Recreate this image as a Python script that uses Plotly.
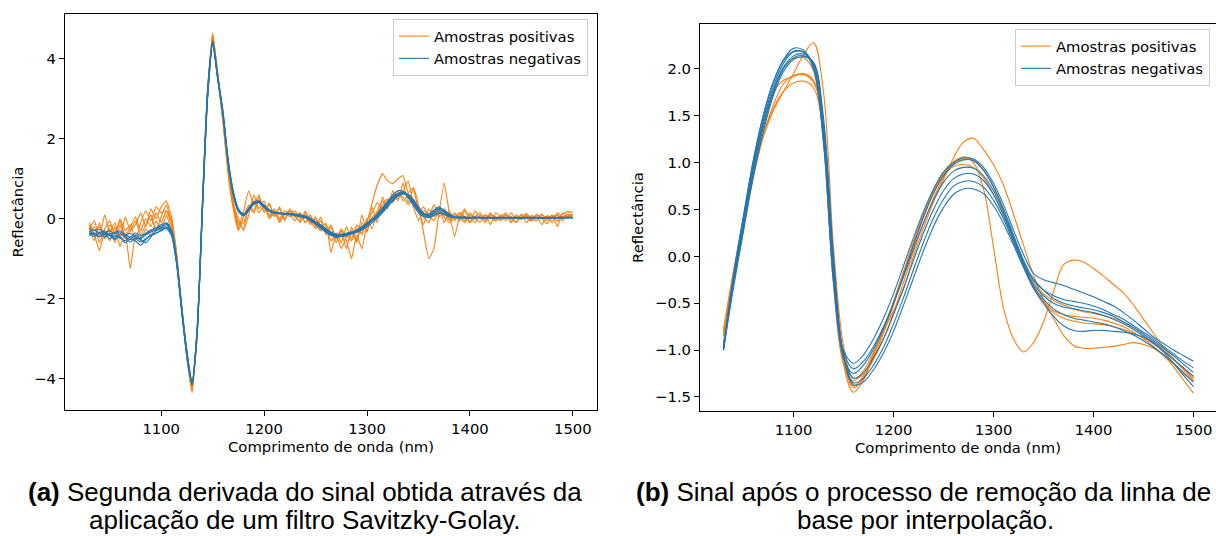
import numpy as np
import plotly.graph_objects as go

# ---------------- data: left panel (second derivative, 5 nm grid) ----------------
wl_a = np.arange(1030, 1501, 5)

pos_a = [
    [-0.20,-0.55,-0.10,-0.45,-0.25,-0.60,-0.15,-0.50,-0.30,-0.05,
     -0.40,-0.15,0.10,-0.30,0.05,0.35,-0.10,-0.95,-2.30,-3.50,
     -4.30,-2.90,0.10,3.20,4.65,3.60,2.50,1.20,0.30,-0.25,
     0.20,0.70,0.35,0.60,0.15,0.40,0.05,0.30,-0.05,0.25,
     0.10,-0.10,0.20,-0.05,-0.25,0.05,-0.40,-0.20,-0.60,-0.30,
     -0.75,-0.20,-0.55,0.10,-0.35,0.30,-0.10,0.55,0.25,0.70,
     0.45,0.90,0.40,0.75,0.20,-0.15,0.25,0.05,0.30,-0.10,
     0.20,-0.05,0.15,0.05,-0.10,0.20,0.00,0.10,-0.15,0.15,
     0.05,-0.05,0.15,0.00,0.10,-0.10,0.08,0.02,0.12,-0.05,
     0.10,-0.20,0.15,0.05,0.12],
    [-0.15,-0.40,-0.80,-0.30,-0.55,-0.20,-0.70,-0.35,-1.25,-0.40,
     -0.55,-0.25,-0.45,-0.05,-0.30,0.10,-0.30,-1.00,-2.25,-3.40,
     -4.20,-2.85,0.25,3.15,4.55,3.55,2.45,1.30,0.45,-0.10,
     -0.25,0.30,0.15,0.55,0.20,0.35,0.10,0.25,0.00,0.20,
     0.05,0.15,-0.10,0.10,-0.20,-0.05,-0.35,-0.15,-0.50,-0.25,
     -0.55,-1.00,-0.40,-0.75,-0.10,0.40,0.85,1.13,0.95,0.88,
     1.00,1.08,0.65,0.78,0.35,-0.35,-1.00,-0.75,0.15,0.90,
     0.15,-0.45,0.05,0.25,-0.10,0.05,0.15,-0.05,0.10,0.00,
     0.00,0.12,-0.08,0.06,-0.02,0.14,0.00,-0.05,0.10,0.02,
     0.08,-0.06,0.12,0.18,0.16],
    [-0.25,-0.05,-0.45,0.10,-0.35,-0.10,-0.50,0.05,-0.30,-0.15,
     0.15,-0.20,0.25,0.00,0.30,0.45,0.05,-0.85,-2.20,-3.40,
     -4.25,-2.95,0.15,3.10,4.60,3.65,2.55,1.35,0.40,0.00,
     -0.30,0.10,0.60,0.25,0.45,0.05,0.20,-0.10,0.15,0.05,
     0.20,0.00,0.15,-0.15,0.05,-0.30,-0.10,-0.85,-0.35,-0.60,
     -0.20,-0.50,-0.15,-0.40,-0.05,-0.25,0.20,0.45,0.30,0.60,
     0.50,0.70,0.95,0.40,0.15,0.30,0.05,0.35,0.10,0.25,
     0.00,0.15,-0.05,0.20,0.05,-0.10,0.10,0.00,0.15,-0.05,
     0.05,0.15,-0.10,0.10,0.00,0.08,-0.05,0.12,0.00,0.06,
     -0.10,0.15,0.05,0.10,0.02],
    [-0.35,-0.20,-0.60,-0.25,-0.05,-0.40,0.00,-0.30,-0.15,-0.55,
     -0.10,0.20,-0.05,0.30,0.15,0.20,-0.15,-1.00,-2.35,-3.50,
     -4.35,-2.90,0.20,3.00,4.50,3.50,2.40,1.10,0.25,-0.30,
     0.05,0.35,0.20,0.45,0.30,0.10,0.25,0.00,0.20,0.10,
     -0.05,0.15,-0.10,0.05,-0.15,-0.30,-0.20,-0.55,-0.40,-0.75,
     -0.45,-0.30,-0.60,-0.10,-0.30,0.05,0.15,0.35,0.50,0.40,
     0.60,0.55,0.35,0.50,0.25,0.05,-0.10,0.20,0.05,0.15,
     -0.05,0.10,0.05,-0.10,0.15,0.00,0.05,-0.10,0.10,0.05,
     -0.05,0.10,0.00,-0.08,0.12,0.02,-0.05,0.10,0.00,-0.12,
     0.05,0.10,-0.05,0.12,0.08],
    [-0.10,-0.30,-0.20,-0.50,-0.15,-0.35,-0.05,-0.45,-0.20,0.05,
     -0.30,0.00,-0.20,0.15,-0.10,0.20,0.00,-0.90,-2.25,-3.45,
     -4.20,-2.80,0.30,3.25,4.62,3.58,2.52,1.25,0.35,-0.15,
     -0.10,0.25,0.45,0.15,0.35,0.00,0.15,-0.05,0.10,0.20,
     0.05,-0.05,0.10,-0.10,0.00,-0.20,-0.15,-0.35,-0.50,-0.30,
     -0.40,-0.55,-0.25,-0.35,0.00,0.15,0.40,0.25,0.45,0.55,
     0.70,0.45,0.60,0.30,-0.05,0.20,0.10,-0.05,0.20,0.05,
     -0.10,0.05,0.15,-0.05,0.10,0.00,-0.08,0.10,0.02,-0.05,
     0.10,0.00,0.05,-0.10,0.05,0.12,-0.02,0.05,-0.15,0.08,
     0.02,0.10,0.00,0.06,0.04],
]

neg_a = [
    [-0.30,-0.38,-0.33,-0.40,-0.36,-0.46,-0.38,-0.44,-0.52,-0.40,
     -0.47,-0.40,-0.33,-0.28,-0.22,-0.15,-0.35,-1.05,-2.25,-3.35,
     -4.10,-2.75,0.30,3.10,4.40,3.50,2.65,1.45,0.65,0.22,
     0.10,0.25,0.40,0.42,0.30,0.20,0.15,0.14,0.12,0.13,
     0.10,0.08,0.05,-0.02,-0.10,-0.18,-0.28,-0.36,-0.40,-0.40,
     -0.36,-0.33,-0.30,-0.22,-0.12,-0.02,0.10,0.25,0.40,0.55,
     0.64,0.66,0.55,0.38,0.20,0.08,0.03,0.08,0.15,0.12,
     0.06,0.03,0.04,0.02,0.03,0.05,0.02,0.03,0.04,0.01,
     0.02,0.04,0.03,0.01,0.03,0.04,0.02,0.03,0.01,0.03,
     0.02,0.04,0.03,0.03,0.04],
    [-0.42,-0.35,-0.45,-0.38,-0.50,-0.42,-0.48,-0.55,-0.45,-0.50,
     -0.58,-0.50,-0.42,-0.36,-0.28,-0.22,-0.40,-1.10,-2.30,-3.40,
     -4.15,-2.80,0.20,3.00,4.35,3.55,2.70,1.50,0.70,0.25,
     0.12,0.22,0.38,0.44,0.33,0.22,0.16,0.13,0.14,0.11,
     0.09,0.06,0.03,-0.04,-0.12,-0.22,-0.32,-0.40,-0.44,-0.43,
     -0.40,-0.36,-0.32,-0.26,-0.16,-0.05,0.06,0.20,0.36,0.50,
     0.60,0.68,0.60,0.44,0.26,0.12,0.10,0.22,0.30,0.20,
     0.10,0.04,0.03,0.05,0.02,0.04,0.03,0.01,0.04,0.02,
     0.03,0.02,0.04,0.03,0.01,0.04,0.03,0.02,0.03,0.02,
     0.03,0.02,0.04,0.03,0.03],
    [-0.25,-0.30,-0.26,-0.35,-0.30,-0.38,-0.33,-0.40,-0.36,-0.45,
     -0.50,-0.38,-0.30,-0.22,-0.14,-0.10,-0.28,-1.00,-2.20,-3.30,
     -4.05,-2.70,0.40,3.20,4.45,3.55,2.60,1.40,0.60,0.18,
     0.08,0.26,0.42,0.40,0.28,0.18,0.14,0.15,0.13,0.12,
     0.11,0.09,0.06,0.00,-0.08,-0.16,-0.25,-0.33,-0.38,-0.39,
     -0.37,-0.34,-0.28,-0.20,-0.10,0.00,0.12,0.28,0.44,0.60,
     0.70,0.68,0.52,0.34,0.16,0.05,0.04,0.10,0.14,0.10,
     0.05,0.03,0.05,0.03,0.02,0.04,0.03,0.04,0.02,0.03,
     0.04,0.03,0.02,0.03,0.04,0.02,0.03,0.04,0.02,0.03,
     0.04,0.03,0.02,0.04,0.03],
    [-0.38,-0.44,-0.36,-0.46,-0.40,-0.50,-0.44,-0.60,-0.50,-0.56,
     -0.66,-0.52,-0.40,-0.36,-0.30,-0.25,-0.42,-1.15,-2.35,-3.45,
     -4.12,-2.85,0.25,3.05,4.38,3.48,2.62,1.42,0.62,0.20,
     0.10,0.24,0.40,0.43,0.32,0.20,0.15,0.12,0.11,0.10,
     0.08,0.05,0.02,-0.05,-0.14,-0.24,-0.34,-0.42,-0.46,-0.45,
     -0.42,-0.38,-0.34,-0.28,-0.20,-0.10,0.02,0.15,0.30,0.44,
     0.56,0.62,0.62,0.48,0.30,0.14,0.08,0.16,0.24,0.18,
     0.08,0.03,0.02,0.04,0.03,0.02,0.04,0.03,0.02,0.03,
     0.02,0.03,0.04,0.02,0.03,0.02,0.04,0.03,0.02,0.04,
     0.03,0.02,0.03,0.04,0.02],
    [-0.33,-0.28,-0.36,-0.30,-0.42,-0.34,-0.30,-0.40,-0.46,-0.35,
     -0.42,-0.36,-0.28,-0.24,-0.18,-0.12,-0.32,-1.08,-2.28,-3.38,
     -4.08,-2.72,0.35,3.15,4.42,3.52,2.68,1.48,0.68,0.24,
     0.12,0.27,0.41,0.45,0.34,0.23,0.17,0.15,0.13,0.14,
     0.12,0.10,0.07,0.01,-0.07,-0.15,-0.26,-0.35,-0.42,-0.43,
     -0.40,-0.35,-0.30,-0.24,-0.14,-0.04,0.08,0.22,0.38,0.52,
     0.62,0.64,0.56,0.40,0.22,0.10,0.06,0.14,0.20,0.16,
     0.08,0.04,0.03,0.04,0.02,0.03,0.04,0.02,0.03,0.04,
     0.03,0.04,0.02,0.03,0.03,0.04,0.02,0.03,0.04,0.02,
     0.03,0.04,0.03,0.02,0.03],
    [-0.36,-0.40,-0.45,-0.36,-0.42,-0.52,-0.38,-0.46,-0.58,-0.48,
     -0.52,-0.60,-0.45,-0.30,-0.24,-0.20,-0.38,-1.12,-2.32,-3.42,
     -4.14,-2.82,0.22,3.02,4.36,3.46,2.60,1.40,0.60,0.20,
     0.08,0.20,0.36,0.41,0.31,0.21,0.16,0.14,0.12,0.12,
     0.10,0.07,0.04,-0.03,-0.11,-0.20,-0.30,-0.38,-0.43,-0.42,
     -0.38,-0.34,-0.31,-0.25,-0.15,-0.05,0.06,0.18,0.32,0.46,
     0.58,0.63,0.58,0.44,0.28,0.14,0.12,0.20,0.26,0.22,
     0.12,0.05,0.03,0.02,0.04,0.03,0.02,0.03,0.04,0.02,
     0.03,0.02,0.03,0.04,0.02,0.03,0.04,0.02,0.03,0.03,
     0.02,0.03,0.04,0.03,0.04],
]

# ---------------- data: right panel (baseline removed, 10 nm grid) ----------------
wl_b = np.arange(1030, 1501, 10)

pos_b = [
    [-0.82,-0.25,0.30,0.85,1.28,1.56,1.76,1.95,2.15,2.28,
     1.75,0.10,-0.95,-1.30,-1.26,-1.10,-0.88,-0.60,-0.28,0.05,
     0.35,0.62,0.84,0.98,1.04,1.02,0.92,0.74,0.50,0.20,
     -0.10,-0.34,-0.48,-0.58,-0.62,-0.64,-0.65,-0.66,-0.68,-0.71,
     -0.75,-0.81,-0.88,-0.96,-1.05,-1.15,-1.25,-1.34],
    [-0.80,-0.18,0.42,0.98,1.42,1.75,1.88,1.92,1.95,1.88,
     1.30,-0.15,-1.10,-1.40,-1.30,-1.08,-0.82,-0.52,-0.20,0.12,
     0.42,0.68,0.88,1.00,1.06,1.00,0.72,0.10,-0.55,-0.88,
     -1.02,-0.92,-0.70,-0.38,-0.09,-0.04,-0.06,-0.13,-0.21,-0.30,
     -0.39,-0.52,-0.67,-0.82,-0.97,-1.09,-1.19,-1.28],
    [-0.78,-0.15,0.40,0.90,1.30,1.58,1.76,1.85,1.87,1.80,
     1.30,-0.05,-1.15,-1.45,-1.32,-1.05,-0.80,-0.58,-0.35,0.00,
     0.30,0.58,0.82,1.05,1.22,1.26,1.14,0.98,0.76,0.45,
     0.12,-0.20,-0.46,-0.66,-0.84,-0.95,-0.98,-0.98,-0.97,-0.96,
     -0.94,-0.92,-0.94,-0.98,-1.06,-1.18,-1.32,-1.46],
    [-0.85,-0.22,0.35,0.88,1.30,1.62,1.84,1.93,1.94,1.86,
     1.35,-0.08,-1.10,-1.38,-1.28,-1.04,-0.78,-0.50,-0.18,0.15,
     0.45,0.70,0.90,1.01,1.06,1.03,0.92,0.74,0.50,0.22,
     -0.06,-0.28,-0.40,-0.47,-0.52,-0.56,-0.59,-0.61,-0.63,-0.66,
     -0.70,-0.76,-0.83,-0.91,-1.00,-1.10,-1.21,-1.32],
    [-0.92,-0.25,0.36,0.95,1.42,1.78,2.01,2.11,2.12,1.98,
     1.20,-0.30,-1.15,-1.33,-1.22,-1.02,-0.78,-0.48,-0.16,0.16,
     0.45,0.69,0.86,0.96,0.98,0.95,0.84,0.66,0.43,0.16,
     -0.10,-0.34,-0.50,-0.60,-0.66,-0.69,-0.71,-0.72,-0.73,-0.75,
     -0.78,-0.82,-0.87,-0.93,-1.01,-1.10,-1.20,-1.30],
]

neg_b = [
    [-1.00,-0.22,0.42,1.02,1.50,1.86,2.10,2.22,2.20,2.02,
     1.25,-0.25,-1.00,-1.14,-1.05,-0.88,-0.66,-0.40,-0.10,0.20,
     0.48,0.72,0.90,1.00,1.05,1.04,0.95,0.78,0.55,0.28,
     0.02,-0.18,-0.25,-0.28,-0.31,-0.35,-0.39,-0.43,-0.48,-0.53,
     -0.60,-0.68,-0.77,-0.86,-0.93,-1.00,-1.06,-1.12],
    [-0.95,-0.25,0.38,0.98,1.46,1.82,2.06,2.18,2.18,2.04,
     1.30,-0.15,-1.02,-1.20,-1.12,-0.96,-0.75,-0.50,-0.22,0.08,
     0.36,0.60,0.79,0.91,0.95,0.94,0.86,0.70,0.47,0.20,
     -0.06,-0.26,-0.36,-0.42,-0.46,-0.48,-0.50,-0.53,-0.57,-0.62,
     -0.67,-0.74,-0.81,-0.88,-0.96,-1.04,-1.12,-1.19],
    [-1.00,-0.28,0.34,0.94,1.42,1.78,2.02,2.14,2.16,2.06,
     1.38,-0.10,-1.05,-1.30,-1.24,-1.08,-0.88,-0.62,-0.34,-0.04,
     0.25,0.50,0.70,0.83,0.88,0.88,0.81,0.66,0.44,0.18,
     -0.08,-0.30,-0.42,-0.50,-0.54,-0.56,-0.58,-0.60,-0.63,-0.67,
     -0.72,-0.78,-0.85,-0.93,-1.01,-1.10,-1.19,-1.28],
    [-0.98,-0.30,0.30,0.90,1.38,1.75,2.00,2.12,2.14,2.06,
     1.42,-0.05,-1.06,-1.35,-1.30,-1.16,-0.97,-0.72,-0.44,-0.14,
     0.15,0.41,0.61,0.75,0.80,0.80,0.74,0.60,0.40,0.15,
     -0.10,-0.32,-0.46,-0.56,-0.62,-0.66,-0.68,-0.70,-0.72,-0.75,
     -0.79,-0.84,-0.90,-0.97,-1.05,-1.14,-1.24,-1.34],
    [-1.00,-0.33,0.27,0.86,1.34,1.72,1.97,2.10,2.13,2.07,
     1.48,0.00,-1.06,-1.37,-1.34,-1.21,-1.03,-0.80,-0.52,-0.23,
     0.06,0.32,0.52,0.66,0.72,0.72,0.67,0.54,0.35,0.12,
     -0.12,-0.34,-0.50,-0.64,-0.74,-0.79,-0.80,-0.79,-0.79,-0.80,
     -0.81,-0.83,-0.86,-0.92,-1.02,-1.14,-1.27,-1.39],
    [-0.96,-0.20,0.44,1.04,1.52,1.87,2.09,2.19,2.18,2.00,
     1.22,-0.28,-1.08,-1.25,-1.16,-0.99,-0.77,-0.50,-0.20,0.12,
     0.42,0.67,0.86,0.98,1.03,1.02,0.92,0.74,0.50,0.23,
     -0.04,-0.24,-0.36,-0.45,-0.50,-0.53,-0.55,-0.57,-0.60,-0.64,
     -0.70,-0.76,-0.83,-0.90,-0.98,-1.06,-1.15,-1.24],
]

label_pos = "Amostras positivas"
label_neg = "Amostras negativas"
x_title = "Comprimento de onda (nm)"
y_title = "Reflectância"
xticks = [1100, 1200, 1300, 1400, 1500]

ORANGE = "#ff7f0e"
BLUE = "#1f77b4"
FONT = "DejaVu Sans"
FS = 14.8
W, H = 1216, 536

fig = go.Figure()

def add_group(xs, ys_list, color, name, xa, ya, legend, shape, smooth):
    for i, ys in enumerate(ys_list):
        fig.add_trace(go.Scatter(
            x=xs, y=ys, mode="lines", name=name,
            line=dict(color=color, width=1.1, shape=shape, smoothing=smooth),
            showlegend=(i == 0), legend=legend, xaxis=xa, yaxis=ya,
            hoverinfo="skip"))

add_group(wl_a, pos_a, ORANGE, label_pos, "x", "y", "legend", "spline", 0.3)
add_group(wl_a, neg_a, BLUE, label_neg, "x", "y", "legend", "spline", 0.7)
add_group(wl_b, pos_b, ORANGE, label_pos, "x2", "y2", "legend2", "spline", 1.0)
add_group(wl_b, neg_b, BLUE, label_neg, "x2", "y2", "legend2", "spline", 1.0)

axis_common = dict(showline=True, linecolor="black", linewidth=1, mirror=True,
                   ticks="outside", ticklen=5, tickwidth=1, tickcolor="black",
                   showgrid=False, zeroline=False,
                   tickfont=dict(family=FONT, size=FS, color="black"))

def px_x(a, b):
    return [a / W, b / W]

def px_y(top, bottom):
    return [1 - bottom / H, 1 - top / H]

fig.update_layout(
    width=W, height=H,
    margin=dict(l=0, r=0, t=0, b=0),
    paper_bgcolor="white", plot_bgcolor="white",
    font=dict(family=FONT, size=FS, color="black"),
    xaxis=dict(domain=px_x(65, 597), range=[1006.5, 1523.5], tickvals=xticks,
               title=dict(text=x_title, standoff=5, font=dict(family=FONT, size=FS)),
               anchor="y", **axis_common),
    yaxis=dict(domain=px_y(14, 410), range=[-4.78, 5.12], tickvals=[-4, -2, 0, 2, 4],
               title=dict(text=y_title, standoff=7, font=dict(family=FONT, size=FS)),
               anchor="x", **axis_common),
    xaxis2=dict(domain=px_x(700, 1216), range=[1006.5, 1522.5], tickvals=xticks,
                title=dict(text=x_title, standoff=5, font=dict(family=FONT, size=FS)),
                anchor="y2", **axis_common),
    yaxis2=dict(domain=px_y(24, 411), range=[-1.65, 2.48],
                tickvals=[-1.5, -1.0, -0.5, 0.0, 0.5, 1.0, 1.5, 2.0], tickformat=".1f",
                title=dict(text=y_title, standoff=7, font=dict(family=FONT, size=FS)),
                anchor="x2", **axis_common),
    legend=dict(x=588 / W, xanchor="right", y=1 - 19 / H, yanchor="top",
                bgcolor="rgba(255,255,255,0.8)", bordercolor="#cccccc", borderwidth=1,
                font=dict(family=FONT, size=FS), tracegroupgap=0),
    legend2=dict(x=1015 / W, xanchor="left", y=1 - 29 / H, yanchor="top",
                 bgcolor="rgba(255,255,255,0.8)", bordercolor="#cccccc", borderwidth=1,
                 font=dict(family=FONT, size=FS), tracegroupgap=0),
)

cap_font = dict(family="Liberation Sans", size=26, color="black")
captions = [
    ("<b>(a)</b> Segunda derivada do sinal obtida através da", 305, 492, "center"),
    ("aplicação de um filtro Savitzky-Golay.", 305, 520, "center"),
    ("<b>(b)</b> Sinal após o processo de remoção da linha de", 634, 492, "left"),
    ("base por interpolação.", 925, 520, "center"),
]
for txt, cx, cy, anc in captions:
    fig.add_annotation(text=txt, x=cx / W, y=1 - cy / H, xref="paper", yref="paper",
                       xanchor=anc, yanchor="middle", showarrow=False, font=cap_font)

fig.write_html("out.html")
